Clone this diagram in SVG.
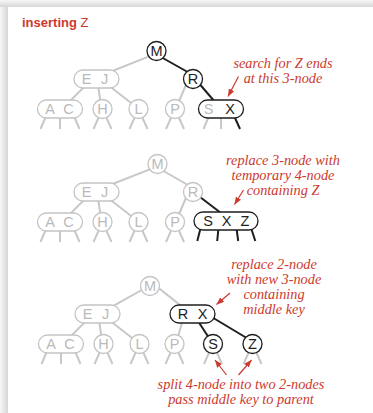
<svg xmlns="http://www.w3.org/2000/svg" width="373" height="413" viewBox="0 0 373 413">
<defs>
<linearGradient id="shL" x1="0" y1="0" x2="1" y2="0"><stop offset="0" stop-color="#f7f7f7"/><stop offset="1" stop-color="#d6d6d6"/></linearGradient>
<linearGradient id="shT" x1="0" y1="0" x2="0" y2="1"><stop offset="0" stop-color="#f7f7f7"/><stop offset="1" stop-color="#d6d6d6"/></linearGradient>
<marker id="ah" markerUnits="userSpaceOnUse" markerWidth="8" markerHeight="6" refX="7.5" refY="3" orient="auto"><path d="M0,0 L7.5,3 L0,6 z" fill="#cc3a2e"/></marker>
<style>
.gl{stroke:#c8c8c8;stroke-width:2;fill:none;stroke-linecap:butt}
.bl{stroke:#1e1e1e;stroke-width:2;fill:none}
.gn{fill:#fff;stroke:#c4c4c4;stroke-width:1.3}
.bn{fill:#fff;stroke:#1e1e1e;stroke-width:1.3}
.t{font-family:"Liberation Sans",Arial,sans-serif;font-size:14.5px;text-anchor:middle}
.gt{fill:#bababa}
.bt{fill:#1e1e1e}
.note{font-family:"Liberation Serif","Times New Roman",serif;font-style:italic;font-size:14.3px;fill:#cc3a2e;text-anchor:middle}
.ar{stroke:#cc3a2e;stroke-width:1.2;fill:none;marker-end:url(#ah)}
</style>
</defs>
<rect width="373" height="413" fill="#fff"/>
<rect x="0" y="0" width="8" height="413" fill="url(#shL)"/>
<rect x="0" y="0" width="373" height="7" fill="url(#shT)"/>
<rect x="8" y="7" width="365" height="406" fill="#fff"/>

<text x="22" y="26.5" font-family="Liberation Sans,Arial,sans-serif" font-size="13" fill="#cc3a2e"><tspan font-weight="bold">inserting</tspan> Z</text>

<!-- connectors -->
<g id="connectors">
 <!-- panel 1 -->
 <line class="gl" x1="156.5" y1="53.4" x2="108" y2="72.8"/>
 <line class="gl" x1="86" y1="85" x2="69" y2="102"/>
 <line class="gl" x1="98" y1="85" x2="100.5" y2="102"/>
 <line class="gl" x1="108" y1="85" x2="136" y2="106.7"/>
 <line class="gl" x1="188" y1="80" x2="177" y2="106"/>
 <line class="bl" x1="156.5" y1="54.5" x2="193" y2="75"/>
 <line class="bl" x1="197" y1="81" x2="215" y2="102"/>
 <path class="gl" d="M49,109 L40.5,129 M60,109 L60,129 M71,109 L79.5,129 M102.5,109 L93.5,129 M102.5,109 L111.5,129 M138.5,109 L129.5,129 M138.5,109 L147.5,129 M175,109 L166,129 M175,109 L184,129 M212,109 L203.5,129 M221,109 L221,129"/>
 <path class="bl" d="M231,109 L240,129"/>
 <!-- panel 2 -->
 <line class="gl" x1="157.5" y1="166.4" x2="108" y2="185.8"/>
 <line class="gl" x1="86" y1="198" x2="69" y2="215"/>
 <line class="gl" x1="98" y1="198" x2="100.5" y2="215"/>
 <line class="gl" x1="108" y1="198" x2="136" y2="219.7"/>
 <line class="gl" x1="188" y1="193" x2="177" y2="219"/>
 <line class="gl" x1="157.5" y1="167.5" x2="193" y2="188"/>
 <line class="bl" x1="196" y1="194" x2="221" y2="213"/>
 <path class="gl" d="M49,222 L40.5,242 M60,222 L60,242 M71,222 L79.5,242 M102.5,222 L93.5,242 M102.5,222 L111.5,242 M138.5,222 L129.5,242 M138.5,222 L147.5,242 M175,222 L166,242 M175,222 L184,242"/>
 <path class="bl" d="M201.1,226 L197.3,241 M218.7,226 L217.2,241 M236.2,226 L238.2,241 M250.4,226 L255.3,241"/>
 <!-- panel 3 -->
 <line class="gl" x1="148" y1="286.5" x2="112" y2="306.6"/>
 <line class="gl" x1="157" y1="286.7" x2="183" y2="307.4"/>
 <line class="gl" x1="87" y1="320" x2="70" y2="337"/>
 <line class="gl" x1="99" y1="320" x2="101.5" y2="337"/>
 <line class="gl" x1="109" y1="320" x2="137" y2="341.7"/>
 <line class="gl" x1="184" y1="316" x2="177" y2="340"/>
 <line class="bl" x1="196" y1="318" x2="211" y2="341"/>
 <line class="bl" x1="210" y1="316" x2="250" y2="340"/>
 <path class="gl" d="M50,344 L41.5,364 M61,344 L61,364 M72,344 L80.5,364 M103.5,344 L94.5,364 M103.5,344 L112.5,364 M139.5,344 L130.5,364 M139.5,344 L148.5,364 M174.5,344 L165.5,364 M174.5,344 L183.5,364 M213,344 L204,364 M213,344 L222,364 M252.5,344 L243.5,364 M252.5,344 L261.5,364"/>
 <!-- annotation arrows -->
 <line class="ar" x1="238.5" y1="76.5" x2="228" y2="96.5"/>
 <line class="ar" x1="243.5" y1="190" x2="234.5" y2="204.5"/>
 <line class="ar" x1="230" y1="293" x2="216.5" y2="304.5"/>
 <line class="ar" x1="226.5" y1="375" x2="215" y2="360"/>
 <line class="ar" x1="238.5" y1="375" x2="251.5" y2="360"/>
</g>

<!-- panel 1 nodes -->
<g id="p1-M"><circle class="bn" cx="156.5" cy="51" r="9.5"/><text class="t bt" x="156.5" y="56.2">M</text></g>
<g id="p1-EJ"><rect class="gn" x="74" y="70" width="45" height="18" rx="9"/><text class="t gt" x="86.5" y="84.2">E</text><text class="t gt" x="104.5" y="84.2">J</text></g>
<g id="p1-R"><circle class="bn" cx="193" cy="79" r="9.5"/><text class="t bt" x="193" y="84.2">R</text></g>
<g id="p1-AC"><rect class="gn" x="37.5" y="100" width="45" height="18" rx="9"/><text class="t gt" x="50" y="114.2">A</text><text class="t gt" x="68.5" y="114.2">C</text></g>
<g id="p1-H"><circle class="gn" cx="102.5" cy="109" r="9.5"/><text class="t gt" x="102.5" y="114.2">H</text></g>
<g id="p1-L"><circle class="gn" cx="138.5" cy="109" r="9.5"/><text class="t gt" x="138.5" y="114.2">L</text></g>
<g id="p1-P"><circle class="gn" cx="175" cy="109" r="9.5"/><text class="t gt" x="175" y="114.2">P</text></g>
<g id="p1-SX"><rect class="bn" x="198.5" y="100" width="45" height="18" rx="9"/><text class="t gt" x="208.5" y="114.2">S</text><text class="t bt" x="230" y="114.2">X</text></g>

<!-- panel 2 nodes -->
<g id="p2-M"><circle class="gn" cx="157.5" cy="164" r="9.5"/><text class="t gt" x="157.5" y="169.2">M</text></g>
<g id="p2-EJ"><rect class="gn" x="74" y="183" width="45" height="18" rx="9"/><text class="t gt" x="86.5" y="197.2">E</text><text class="t gt" x="104.5" y="197.2">J</text></g>
<g id="p2-R"><circle class="gn" cx="193" cy="192" r="9.5"/><text class="t gt" x="193" y="197.2">R</text></g>
<g id="p2-AC"><rect class="gn" x="37.5" y="213" width="45" height="18" rx="9"/><text class="t gt" x="50" y="227.2">A</text><text class="t gt" x="68.5" y="227.2">C</text></g>
<g id="p2-H"><circle class="gn" cx="102.5" cy="222" r="9.5"/><text class="t gt" x="102.5" y="227.2">H</text></g>
<g id="p2-L"><circle class="gn" cx="138.5" cy="222" r="9.5"/><text class="t gt" x="138.5" y="227.2">L</text></g>
<g id="p2-P"><circle class="gn" cx="175" cy="222" r="9.5"/><text class="t gt" x="175" y="227.2">P</text></g>
<g id="p2-SXZ"><rect class="bn" x="194" y="212" width="64" height="18" rx="9"/><text class="t bt" x="208" y="226.2">S</text><text class="t bt" x="226.5" y="226.2">X</text><text class="t bt" x="245" y="226.2">Z</text></g>

<!-- panel 3 nodes -->
<g id="p3-M"><circle class="gn" cx="150" cy="286" r="9.5"/><text class="t gt" x="150" y="291.2">M</text></g>
<g id="p3-EJ"><rect class="gn" x="75" y="305" width="45" height="18" rx="9"/><text class="t gt" x="87.5" y="319.2">E</text><text class="t gt" x="105.5" y="319.2">J</text></g>
<g id="p3-RX"><rect class="bn" x="170" y="305" width="45" height="18" rx="9"/><text class="t bt" x="183" y="319.2">R</text><text class="t bt" x="202.5" y="319.2">X</text></g>
<g id="p3-AC"><rect class="gn" x="38.5" y="335" width="45" height="18" rx="9"/><text class="t gt" x="51" y="349.2">A</text><text class="t gt" x="69.5" y="349.2">C</text></g>
<g id="p3-H"><circle class="gn" cx="103.5" cy="344" r="9.5"/><text class="t gt" x="103.5" y="349.2">H</text></g>
<g id="p3-L"><circle class="gn" cx="139.5" cy="344" r="9.5"/><text class="t gt" x="139.5" y="349.2">L</text></g>
<g id="p3-P"><circle class="gn" cx="174.5" cy="344" r="9.5"/><text class="t gt" x="174.5" y="349.2">P</text></g>
<g id="p3-S"><circle class="bn" cx="213" cy="344" r="9.5"/><text class="t bt" x="213" y="349.2">S</text></g>
<g id="p3-Z"><circle class="bn" cx="252.5" cy="344" r="9.5"/><text class="t bt" x="252.5" y="349.2">Z</text></g>

<!-- annotations -->
<text class="note" x="283" y="68">search for Z ends</text>
<text class="note" x="283" y="83">at this 3-node</text>
<text class="note" x="283" y="165">replace 3-node with</text>
<text class="note" x="283" y="180">temporary 4-node</text>
<text class="note" x="283" y="195">containing Z</text>
<text class="note" x="274" y="269">replace 2-node</text>
<text class="note" x="274" y="284">with new 3-node</text>
<text class="note" x="274" y="299">containing</text>
<text class="note" x="274" y="314">middle key</text>
<text class="note" x="241" y="389">split 4-node into two 2-nodes</text>
<text class="note" x="241" y="403.5">pass middle key to parent</text>
</svg>
